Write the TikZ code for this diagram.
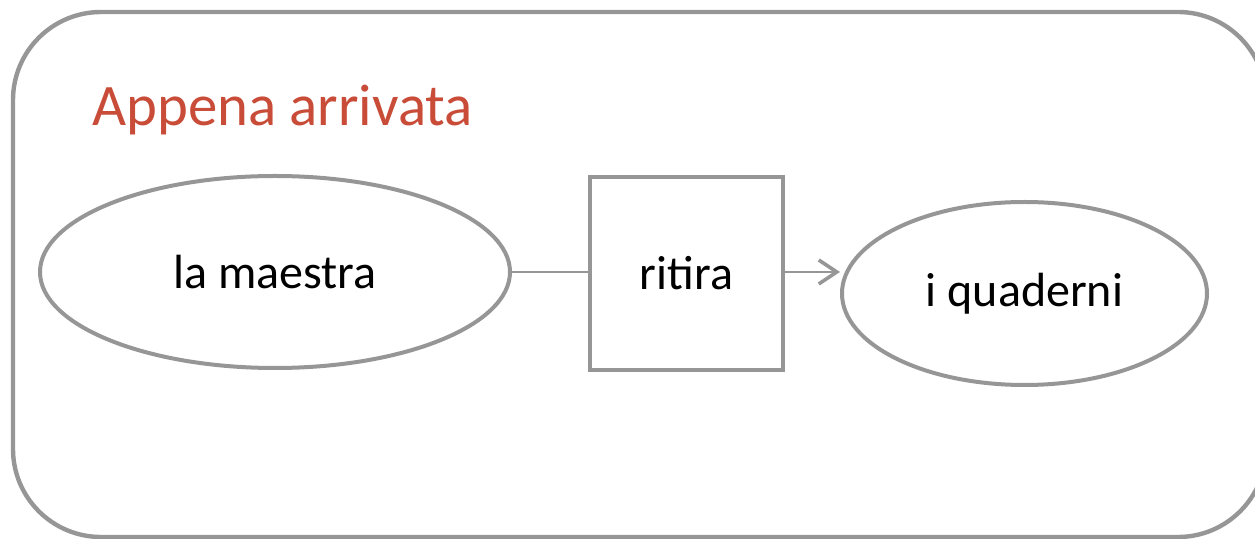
\documentclass[tikz,border=0pt]{standalone}
\usepackage{fontspec}
\setmainfont{Carlito}
\usetikzlibrary{shapes.geometric,arrows.meta}
\definecolor{framegray}{RGB}{150,150,150}
\definecolor{titlered}{RGB}{200,76,56}
\tikzset{
  ent/.style={ellipse, draw=framegray, line width=2pt, inner sep=0pt, font=\fontsize{24}{28}\selectfont},
  rel/.style={rectangle, draw=framegray, line width=2pt, inner sep=0pt, font=\fontsize{24}{28}\selectfont},
  link/.style={draw=framegray, line width=1.4pt},
  frame/.style={draw=framegray, line width=2.2pt, rounded corners=44pt}
}
\begin{document}
\begin{tikzpicture}[x=0.5pt,y=-0.5pt]
\useasboundingbox (0,0) rectangle (1255,539);
\clip (0,0) rectangle (1255,539);
% outer rounded panel
\draw[frame] (13,12) rectangle (1266,537);
% title
\node[anchor=base west, inner sep=0pt, text=titlered, font=\fontsize{29.4}{34}\selectfont] (title) at (92,126) {Appena arrivata};
% entities and relation
\node[ent, minimum width=235pt, minimum height=96pt] (agent) at (275,272) {la maestra};
\node[rel, minimum width=96.5pt, minimum height=96.5pt] (verb) at (686.5,273.5) {ritira};
\node[ent, minimum width=182.5pt, minimum height=91.5pt] (obj) at (1024.5,293.5) {i quaderni};
% connectors
\draw[link] (agent.east) -- (agent.east -| verb.west);
\draw[link, -{Straight Barb[length=9pt, width=12pt, line width=1.8pt]}] (agent.east -| verb.east) -- (agent.east -| obj.west);
\end{tikzpicture}
\end{document}
